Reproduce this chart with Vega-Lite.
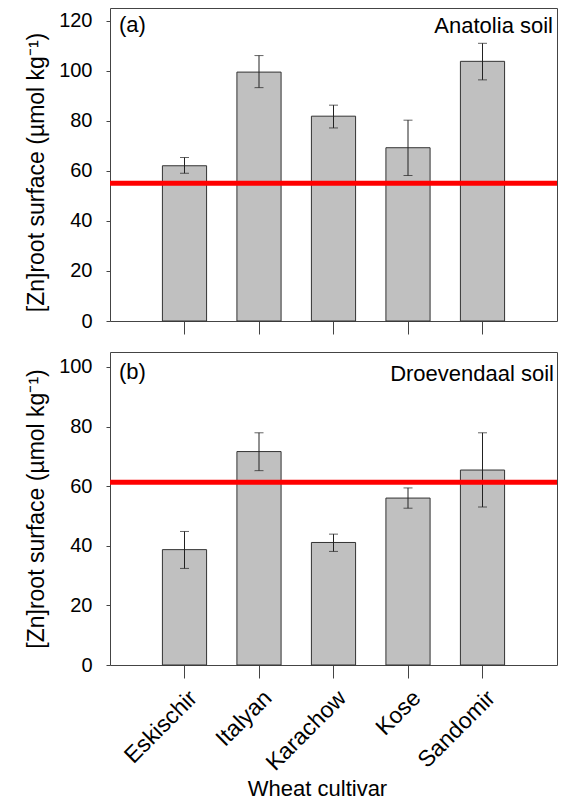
{
  "$schema": "https://vega.github.io/schema/vega-lite/v6.json",
  "padding": {"left": 25, "top": 7, "right": 7, "bottom": 0},
  "config": {
    "font": "Liberation Sans",
    "view": {"stroke": "#444", "strokeWidth": 1},
    "concat": {"spacing": 16},
    "axis": {
      "grid": false, "domain": false, "tickColor": "#444", "tickWidth": 1,
      "labelColor": "#000", "titleColor": "#000",
      "labelFont": "Liberation Sans", "titleFont": "Liberation Sans",
      "labelFontSize": 20, "titleFontSize": 22, "titleFontWeight": "normal"
    }
  },
  "datasets": {
    "bars": [
      {"panel": "a", "cultivar": "Eskischir", "value": 62.0, "lo": 59.0, "hi": 65.3},
      {"panel": "a", "cultivar": "Italyan", "value": 99.4, "lo": 93.2, "hi": 106.0},
      {"panel": "a", "cultivar": "Karachow", "value": 81.8, "lo": 77.1, "hi": 86.2},
      {"panel": "a", "cultivar": "Kose", "value": 69.2, "lo": 58.1, "hi": 80.2},
      {"panel": "a", "cultivar": "Sandomir", "value": 103.7, "lo": 96.3, "hi": 110.9},
      {"panel": "b", "cultivar": "Eskischir", "value": 38.7, "lo": 32.4, "hi": 44.8},
      {"panel": "b", "cultivar": "Italyan", "value": 71.6, "lo": 65.2, "hi": 77.9},
      {"panel": "b", "cultivar": "Karachow", "value": 41.1, "lo": 38.1, "hi": 43.9},
      {"panel": "b", "cultivar": "Kose", "value": 56.0, "lo": 52.6, "hi": 59.4},
      {"panel": "b", "cultivar": "Sandomir", "value": 65.4, "lo": 53.0, "hi": 77.9}
    ],
    "refs": [
      {"panel": "a", "ref": 55.0},
      {"panel": "b", "ref": 61.3}
    ],
    "tags": [
      {"panel": "a", "tag": "(a)", "soil": "Anatolia soil"},
      {"panel": "b", "tag": "(b)", "soil": "Droevendaal soil"}
    ]
  },
  "vconcat": [
    {
      "width": 447, "height": 313,
      "layer": [
        {
          "data": {"name": "bars"},
          "transform": [{"filter": "datum.panel === 'a'"}],
          "mark": {"type": "bar", "fill": "#c0c0c0", "stroke": "#333", "strokeWidth": 1},
          "encoding": {
            "x": {"field": "cultivar", "type": "nominal", "sort": null,
                  "scale": {"paddingInner": 0.407, "paddingOuter": 0.7035},
                  "axis": {"title": null, "labels": false, "ticks": true, "tickSize": 13}},
            "y": {"field": "value", "type": "quantitative",
                  "scale": {"domain": [0, 125], "nice": false},
                  "axis": {"title": "[Zn]root surface (µmol kg⁻¹)", "titleFontSize": 23, "titleY": 164, "values": [0, 20, 40, 60, 80, 100, 120], "tickSize": 4, "labelPadding": 14, "titlePadding": 10}}
          }
        },
        {
          "data": {"name": "bars"},
          "transform": [{"filter": "datum.panel === 'a'"}],
          "mark": {"type": "rule", "color": "#222", "strokeWidth": 1},
          "encoding": {
            "x": {"field": "cultivar", "type": "nominal", "sort": null},
            "y": {"field": "lo", "type": "quantitative", "scale": {"domain": [0, 125], "nice": false}},
            "y2": {"field": "hi"}
          }
        },
        {
          "data": {"name": "bars"},
          "transform": [{"filter": "datum.panel === 'a'"}],
          "mark": {"type": "tick", "color": "#222", "size": 9, "thickness": 1, "orient": "horizontal"},
          "encoding": {
            "x": {"field": "cultivar", "type": "nominal", "sort": null},
            "y": {"field": "lo", "type": "quantitative", "scale": {"domain": [0, 125], "nice": false}}
          }
        },
        {
          "data": {"name": "bars"},
          "transform": [{"filter": "datum.panel === 'a'"}],
          "mark": {"type": "tick", "color": "#222", "size": 9, "thickness": 1, "orient": "horizontal"},
          "encoding": {
            "x": {"field": "cultivar", "type": "nominal", "sort": null},
            "y": {"field": "hi", "type": "quantitative", "scale": {"domain": [0, 125], "nice": false}}
          }
        },
        {
          "data": {"name": "refs"},
          "transform": [{"filter": "datum.panel === 'a'"}],
          "mark": {"type": "rule", "color": "#ff0000", "strokeWidth": 5},
          "encoding": {
            "y": {"field": "ref", "type": "quantitative", "scale": {"domain": [0, 125], "nice": false}}
          }
        },
        {
          "data": {"name": "tags"},
          "transform": [{"filter": "datum.panel === 'a'"}],
          "mark": {"type": "text", "align": "left", "baseline": "alphabetic", "dx": 9, "dy": 24, "fontSize": 22, "color": "#000"},
          "encoding": {
            "x": {"value": 0},
            "y": {"value": 0},
            "text": {"field": "tag"}
          }
        },
        {
          "data": {"name": "tags"},
          "transform": [{"filter": "datum.panel === 'a'"}],
          "mark": {"type": "text", "align": "right", "baseline": "alphabetic", "dx": -4, "dy": 25, "fontSize": 22, "color": "#000"},
          "encoding": {
            "x": {"value": 447},
            "y": {"value": 0},
            "text": {"field": "soil"}
          }
        }
      ]
    },
    {
      "width": 447, "height": 313,
      "layer": [
        {
          "data": {"name": "bars"},
          "transform": [{"filter": "datum.panel === 'b'"}],
          "mark": {"type": "bar", "fill": "#c0c0c0", "stroke": "#333", "strokeWidth": 1},
          "encoding": {
            "x": {"field": "cultivar", "type": "nominal", "sort": null,
                  "scale": {"paddingInner": 0.407, "paddingOuter": 0.7035},
                  "axis": {"title": "Wheat cultivar", "labelAngle": -45, "labelAlign": "right", "labelBaseline": "alphabetic", "labelOffset": 14, "labelFontSize": 23, "labelPadding": 21, "tickSize": 13, "titleFontSize": 22, "titlePadding": 4, "titleX": 207}},
            "y": {"field": "value", "type": "quantitative",
                  "scale": {"domain": [0, 105], "nice": false},
                  "axis": {"title": "[Zn]root surface (µmol kg⁻¹)", "titleFontSize": 23, "values": [0, 20, 40, 60, 80, 100], "tickSize": 4, "labelPadding": 14, "titlePadding": 10}}
          }
        },
        {
          "data": {"name": "bars"},
          "transform": [{"filter": "datum.panel === 'b'"}],
          "mark": {"type": "rule", "color": "#222", "strokeWidth": 1},
          "encoding": {
            "x": {"field": "cultivar", "type": "nominal", "sort": null},
            "y": {"field": "lo", "type": "quantitative", "scale": {"domain": [0, 105], "nice": false}},
            "y2": {"field": "hi"}
          }
        },
        {
          "data": {"name": "bars"},
          "transform": [{"filter": "datum.panel === 'b'"}],
          "mark": {"type": "tick", "color": "#222", "size": 9, "thickness": 1, "orient": "horizontal"},
          "encoding": {
            "x": {"field": "cultivar", "type": "nominal", "sort": null},
            "y": {"field": "lo", "type": "quantitative", "scale": {"domain": [0, 105], "nice": false}}
          }
        },
        {
          "data": {"name": "bars"},
          "transform": [{"filter": "datum.panel === 'b'"}],
          "mark": {"type": "tick", "color": "#222", "size": 9, "thickness": 1, "orient": "horizontal"},
          "encoding": {
            "x": {"field": "cultivar", "type": "nominal", "sort": null},
            "y": {"field": "hi", "type": "quantitative", "scale": {"domain": [0, 105], "nice": false}}
          }
        },
        {
          "data": {"name": "refs"},
          "transform": [{"filter": "datum.panel === 'b'"}],
          "mark": {"type": "rule", "color": "#ff0000", "strokeWidth": 5},
          "encoding": {
            "y": {"field": "ref", "type": "quantitative", "scale": {"domain": [0, 105], "nice": false}}
          }
        },
        {
          "data": {"name": "tags"},
          "transform": [{"filter": "datum.panel === 'b'"}],
          "mark": {"type": "text", "align": "left", "baseline": "alphabetic", "dx": 9, "dy": 27, "fontSize": 22, "color": "#000"},
          "encoding": {
            "x": {"value": 0},
            "y": {"value": 0},
            "text": {"field": "tag"}
          }
        },
        {
          "data": {"name": "tags"},
          "transform": [{"filter": "datum.panel === 'b'"}],
          "mark": {"type": "text", "align": "right", "baseline": "alphabetic", "dx": -3, "dy": 29, "fontSize": 22, "color": "#000"},
          "encoding": {
            "x": {"value": 447},
            "y": {"value": 0},
            "text": {"field": "soil"}
          }
        }
      ]
    }
  ]
}
